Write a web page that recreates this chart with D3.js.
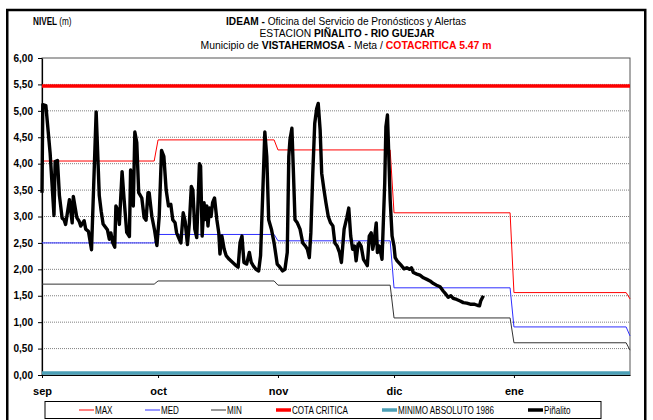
<!DOCTYPE html>
<html>
<head>
<meta charset="utf-8">
<script src="https://cdn.jsdelivr.net/npm/d3@7"></script>
<style>
  body { margin: 0; background: #fff; }
  svg { display: block; }
  text { font-family: "Liberation Sans", Arial, sans-serif; }
  .narrow { font-family: "Liberation Sans Narrow", "Arial Narrow", "Liberation Sans", sans-serif; }
</style>
</head>
<body>
<svg width="653" height="420"></svg>
<script>
// etiquetas de meses y eje Y
const meses = ['sep', 'oct', 'nov', 'dic', 'ene'];
const yTicks = [0, 0.5, 1, 1.5, 2, 2.5, 3, 3.5, 4, 4.5, 5, 5.5, 6];

// niveles historicos por mes (sep, oct, nov, dic, ene, feb)
const maxMes = [4.05, 4.45, 4.26, 3.07, 1.56, 1.44];
const medMes = [2.50, 2.66, 2.54, 1.65, 0.91, 0.74];
const minMes = [1.72, 1.78, 1.70, 1.08, 0.61, 0.47];
const cotaCritica = 5.47;
const minimoAbsoluto = 0.04;

// Piñalito: dias desde el 1 de septiembre y nivel (m)
const dia = [0.0, 0.2, 1.0, 2.1, 3.1, 3.4, 4.0, 4.5, 5.2, 5.7, 6.1, 7.1, 7.8, 8.1, 9.0, 9.6, 10.0, 10.9, 11.3, 12.0,
  12.8, 14.0, 14.8, 15.3, 15.8, 16.9, 17.4, 17.8, 18.3, 18.8, 19.1, 19.6, 20.0, 20.7, 21.2, 21.9, 22.6, 22.9, 23.3, 23.6,
  24.0, 24.5, 25.0, 25.8, 26.4, 26.9, 27.4, 27.7, 28.4, 29.1, 29.7,
  30.3, 30.9, 31.5, 32.1, 32.7, 33.3, 33.8, 34.4, 34.8, 35.5, 35.9, 36.5, 37.0, 37.6, 38.1, 38.6, 39.0, 39.5, 40.0, 40.7,
  41.0, 41.4, 41.9, 42.2, 42.6, 42.9, 43.3, 43.7, 44.1, 44.6, 45.2, 45.7, 46.0, 46.5, 47.1, 47.6, 48.4, 49.3, 50.2, 50.7,
  51.2, 51.7, 52.2, 52.9, 53.6, 54.1, 54.6, 55.3, 56.0, 56.5, 57.1, 57.6, 58.1, 58.6, 59.3, 60.0,
  60.8, 61.5, 62.2, 62.8, 63.4, 63.8, 64.1, 64.6, 65.0, 65.4, 66.0, 66.7, 67.4, 68.1, 68.6, 69.1, 69.5, 70.0, 70.5, 71.0,
  71.4, 71.9, 72.3, 72.9, 73.4, 74.0, 74.6, 75.2, 75.7, 76.3, 76.9, 77.4, 78.1, 78.8, 79.3, 79.8, 80.3, 80.8, 81.2, 81.7,
  82.0, 82.5, 83.1, 83.6, 84.1, 84.6, 85.1, 85.5, 85.8, 86.4, 86.7, 87.2, 87.9, 88.6, 88.9, 89.3, 89.6, 90.0,
  90.5, 91.0, 91.3, 91.8, 92.7, 93.6, 94.3, 95.0, 95.5, 96.0, 96.9, 97.7, 98.6, 99.5, 100.3, 101.2, 102.0, 102.9, 103.7,
  104.4, 105.0, 105.7, 106.3, 107.2, 108.1, 108.9, 109.8, 110.7, 111.7, 112.5, 113.1, 113.4, 114.1];
const nivel = [3.45, 5.12, 5.10, 4.20, 3.02, 4.04, 4.06, 3.40, 2.97, 2.94, 2.85, 3.32, 2.88, 3.38, 2.98, 2.91, 2.82, 2.92, 2.76, 2.72,
  2.37, 4.98, 3.40, 3.10, 2.86, 2.75, 2.57, 2.69, 2.50, 2.42, 3.20, 3.12, 2.85, 3.85, 3.35, 2.70, 2.62, 3.88, 3.75, 3.20,
  4.60, 4.40, 3.45, 3.35, 2.98, 2.93, 3.45, 3.45, 3.00, 2.74, 2.45,
  3.00, 4.25, 4.14, 3.50, 3.20, 3.23, 2.94, 2.88, 2.69, 2.57, 2.50, 3.07, 2.91, 2.47, 2.88, 3.57, 3.50, 2.76, 2.60, 4.00,
  3.95, 2.63, 3.26, 2.94, 3.20, 2.82, 3.16, 3.00, 3.26, 3.35, 2.94, 2.69, 2.29, 2.63, 2.38, 2.26, 2.19, 2.13, 2.07, 2.04,
  2.51, 2.63, 2.13, 2.10, 2.32, 2.13, 2.07, 2.00, 1.97, 2.26, 3.51, 4.60, 4.14, 2.94, 2.76, 2.50,
  2.10, 2.04, 1.97, 2.00, 2.32, 4.14, 4.45, 4.67, 3.82, 2.94, 2.88, 2.76, 2.50, 2.44, 2.38, 2.22, 2.69, 3.82, 4.76, 5.04,
  5.14, 4.64, 3.82, 3.50, 3.26, 3.00, 2.88, 2.82, 2.50, 2.44, 2.32, 2.13, 2.76, 2.98, 3.16, 2.63, 2.38, 2.44, 2.16, 2.47,
  2.50, 2.44, 2.19, 2.13, 2.07, 2.63, 2.69, 2.38, 2.50, 2.88, 2.32, 2.44, 2.19, 3.64, 4.70, 4.92, 4.26, 3.32,
  2.63, 2.44, 2.22, 2.16, 2.09, 2.01, 2.03, 2.00, 2.03, 1.94, 1.91, 1.89, 1.84, 1.81, 1.78, 1.73, 1.70, 1.67, 1.59,
  1.53, 1.47, 1.50, 1.45, 1.43, 1.40, 1.37, 1.36, 1.34, 1.34, 1.32, 1.31, 1.40, 1.50];

const svg = d3.select('svg');

// marco exterior
svg.append('rect')
  .attr('x', 7.25).attr('y', 10).attr('width', 638).attr('height', 430)
  .attr('fill', 'none').attr('stroke', '#000').attr('stroke-width', 2.5);

const inicio = new Date(Date.UTC(2011, 8, 1));
const fin = new Date(Date.UTC(2012, 0, 31));
const x = d3.scaleUtc().domain([inicio, fin]).range([42, 630]);
const y = d3.scaleLinear().domain([0, 6]).range([375, 58]);
const mesesInicio = d3.utcMonths(inicio, fin);

// lineas de rejilla punteadas
svg.append('g')
  .selectAll('line')
  .data(yTicks.filter(v => v > 0 && v < 6))
  .enter().append('line')
    .attr('x1', x.range()[0]).attr('x2', x.range()[1])
    .attr('y1', d => y(d)).attr('y2', d => y(d))
    .attr('stroke', '#808080')
    .attr('stroke-dasharray', '1,1');

// borde del area de grafico
svg.append('rect')
  .attr('x', x.range()[0]).attr('y', y(6))
  .attr('width', x.range()[1] - x.range()[0]).attr('height', y(0) - y(6))
  .attr('fill', 'none').attr('stroke', '#555').attr('stroke-width', 1);

// ejes
const ejeX = svg.append('g')
  .attr('transform', `translate(0,${y(0)})`)
  .call(d3.axisBottom(x).tickValues(mesesInicio).tickFormat((d, i) => meses[i])
    .tickSize(3).tickSizeOuter(0).tickPadding(9));
ejeX.selectAll('text').attr('font-size', 11).attr('font-weight', 'bold').attr('fill', '#000')
  .style('font-family', '"Liberation Sans", Arial, sans-serif');

const ejeY = svg.append('g')
  .attr('transform', `translate(${x.range()[0]},0)`)
  .call(d3.axisLeft(y).tickValues(yTicks).tickFormat(d => d3.format('.2f')(d).replace('.', ','))
    .tickSize(4).tickSizeOuter(0).tickPadding(5));
ejeY.selectAll('text').attr('font-size', 10).attr('font-weight', 'bold').attr('fill', '#000')
  .style('font-family', '"Liberation Sans", Arial, sans-serif');
ejeY.select('.domain').attr('stroke-width', 1.2);

// escalones mensuales de las series historicas
function escalones(valores) {
  let pts = [];
  mesesInicio.forEach((m, i) => {
    let sig = i + 1 < mesesInicio.length ? mesesInicio[i + 1] : fin;
    pts.push([m, valores[i]], [d3.utcDay.offset(sig, -1), valores[i]]);
  });
  pts.push([fin, valores[mesesInicio.length]]);
  return pts;
}

const linea = d3.line().x(d => x(d[0])).y(d => y(d[1]));

const series = [
  { datos: escalones(maxMes), color: '#ff0000', ancho: 1 },
  { datos: escalones(medMes), color: '#2e2eff', ancho: 1 },
  { datos: escalones(minMes), color: '#333333', ancho: 1 },
  { datos: [[inicio, cotaCritica], [fin, cotaCritica]], color: '#ff0000', ancho: 3.5 },
  { datos: [[inicio, minimoAbsoluto], [fin, minimoAbsoluto]], color: '#4b9fb6', ancho: 3.5 },
  { datos: dia.map((d, i) => [new Date(inicio.getTime() + d * 864e5), nivel[i]]), color: '#000', ancho: 3.4 }
];

svg.append('g')
  .selectAll('path')
  .data(series)
  .enter().append('path')
    .attr('d', d => linea(d.datos))
    .attr('fill', 'none')
    .attr('stroke', d => d.color)
    .attr('stroke-width', d => d.ancho)
    .attr('stroke-linejoin', 'round')
    .attr('stroke-linecap', 'butt');

// titulo
const titulo = svg.append('g').attr('class', 'narrow').attr('font-size', 10.5).attr('text-anchor', 'middle');
const l1 = titulo.append('text').attr('x', 346).attr('y', 25)
  .attr('textLength', 240).attr('lengthAdjust', 'spacingAndGlyphs');
l1.append('tspan').attr('font-weight', 'bold').text('IDEAM - ');
l1.append('tspan').text('Oficina del Servicio de Pronósticos y Alertas');
const l2 = titulo.append('text').attr('x', 347).attr('y', 36.8)
  .attr('textLength', 175).attr('lengthAdjust', 'spacingAndGlyphs');
l2.append('tspan').text('ESTACION ');
l2.append('tspan').attr('font-weight', 'bold').text('PIÑALITO - RIO GUEJAR');
const l3 = titulo.append('text').attr('x', 346).attr('y', 48.6)
  .attr('textLength', 291).attr('lengthAdjust', 'spacingAndGlyphs');
l3.append('tspan').text('Municipio de ');
l3.append('tspan').attr('font-weight', 'bold').text('VISTAHERMOSA');
l3.append('tspan').text(' - Meta / ');
l3.append('tspan').attr('font-weight', 'bold').attr('fill', '#ff0000').text('COTACRITICA 5.47 m');

// NIVEL (m), comprimido en horizontal
const nivelTxt = svg.append('text').attr('class', 'narrow')
  .attr('transform', 'translate(33,25) scale(0.82,1)')
  .attr('font-size', 10);
nivelTxt.append('tspan').attr('font-weight', 'bold').text('NIVEL ');
nivelTxt.append('tspan').text('(m)');

// leyenda
const leyenda = [
  { nombre: 'MAX', color: '#ff0000', ancho: 1, x: 79 },
  { nombre: 'MED', color: '#2e2eff', ancho: 1, x: 145 },
  { nombre: 'MIN', color: '#333333', ancho: 1, x: 211 },
  { nombre: 'COTA CRITICA', color: '#ff0000', ancho: 3.5, x: 276 },
  { nombre: 'MINIMO ABSOLUTO 1986', color: '#4b9fb6', ancho: 3.5, x: 382 },
  { nombre: 'Piñalito', color: '#000', ancho: 3.5, x: 528 }
];
svg.append('rect')
  .attr('x', 45).attr('y', 401.5).attr('width', 556).attr('height', 17)
  .attr('fill', '#fff').attr('stroke', '#000').attr('stroke-width', 1);
const item = svg.append('g').selectAll('g').data(leyenda).enter().append('g')
  .attr('transform', d => `translate(${d.x},410)`);
item.append('line').attr('x1', 0).attr('x2', 15)
  .attr('stroke', d => d.color).attr('stroke-width', d => d.ancho);
item.append('text').attr('class', 'narrow')
  .attr('transform', 'translate(16,0) scale(0.81,1)')
  .attr('dy', '0.35em')
  .attr('font-size', 10).text(d => d.nombre);
</script>
</body>
</html>
